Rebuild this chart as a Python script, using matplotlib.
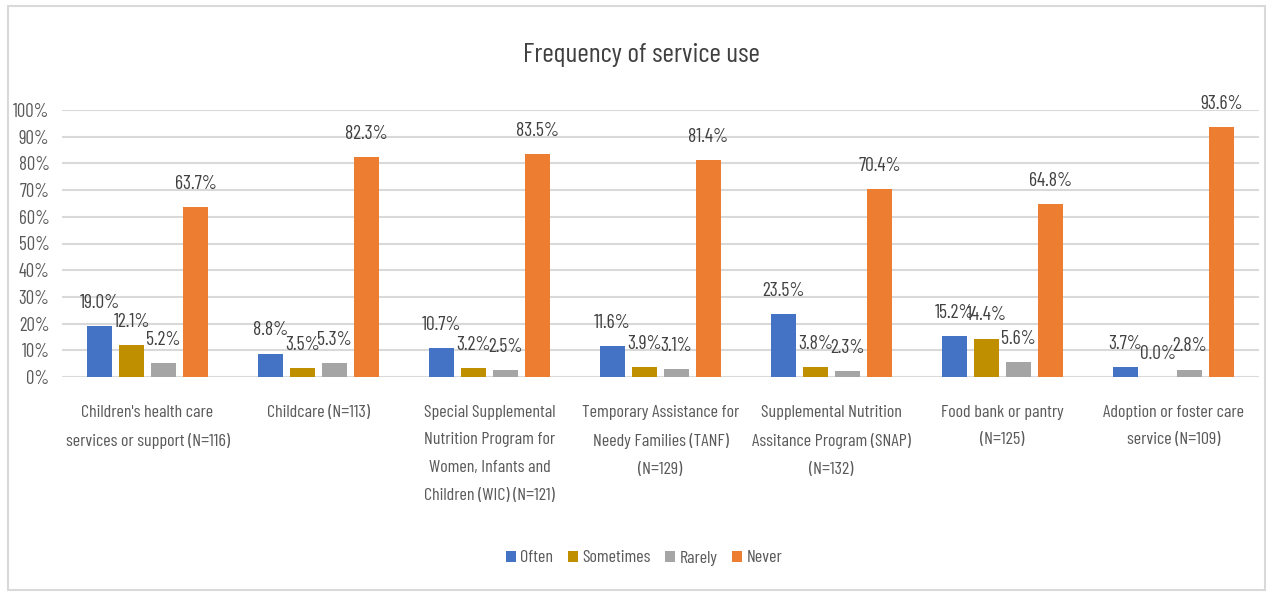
import matplotlib
matplotlib.use("Agg")
import matplotlib.pyplot as plt
import numpy as np
from matplotlib.patches import Rectangle

plt.rcParams['font.family'] = ['Barlow Condensed', 'DejaVu Sans']
plt.rcParams['font.weight'] = 'normal'

categories = [
    "Children's health care\nservices or support (N=116)",
    "Childcare (N=113)",
    "Special Supplemental\nNutrition Program for\nWomen, Infants and\nChildren (WIC) (N=121)",
    "Temporary Assistance for\nNeedy Families (TANF)\n(N=129)",
    "Supplemental Nutrition\nAssitance Program (SNAP)\n(N=132)",
    "Food bank or pantry\n(N=125)",
    "Adoption or foster care\nservice (N=109)",
]
often = [19.0, 8.8, 10.7, 11.6, 23.5, 15.2, 3.7]
sometimes = [12.1, 3.5, 3.2, 3.9, 3.8, 14.4, 0.0]
rarely = [5.2, 5.3, 2.5, 3.1, 2.3, 5.6, 2.8]
never = [63.7, 82.3, 83.5, 81.4, 70.4, 64.8, 93.6]
series_names = ["Often", "Sometimes", "Rarely", "Never"]
yticks = [0, 10, 20, 30, 40, 50, 60, 70, 80, 90, 100]

colors = ["#4472C4", "#BF8F00", "#A5A5A5", "#ED7D31"]

fig = plt.figure(figsize=(12.71, 5.94), dpi=100)
fig.patches.append(Rectangle((8/1271, 4/594), 1257/1271, 584/594, transform=fig.transFigure,
                             fill=False, edgecolor="#D9D9D9", linewidth=1.5))
ax = fig.add_axes([62/1271, 1-377/594, (1259-62)/1271, (377-110)/594])

x = np.arange(len(categories))
bw = 0.146
step = 0.187
data = [often, sometimes, rarely, never]
for i, (vals, name, c) in enumerate(zip(data, series_names, colors)):
    pos = x + (i - 1.5) * step
    ax.bar(pos, np.array(vals) / 100, width=bw, color=c, label=name, zorder=3)
    for px, v in zip(pos, vals):
        ax.annotate(f"{v:.1f}%", (px, v / 100), xytext=(0, 13), textcoords="offset points",
                    ha="center", va="baseline", fontsize=14, color="#404040")

ax.set_xlim(-0.5, len(categories) - 0.5)
ax.set_ylim(0, 1.0)
ax.set_yticks([t / 100 for t in yticks])
ax.set_yticklabels([f"{t}%" for t in yticks], fontsize=13.5, color="#595959")
ax.set_xticks(x)
ax.set_xticklabels(categories, fontsize=13, color="#595959", linespacing=2.05, va="top")
ax.tick_params(axis="x", length=0, pad=20)
ax.tick_params(axis="y", length=0, pad=9)
ax.grid(axis="y", color="#D9D9D9", linewidth=1.5, zorder=0)
for s in ax.spines.values():
    s.set_visible(False)

fig.text(641/1271, 1-55/594, "Frequency of service use", ha="center", va="center",
         fontsize=20, color="#404040")

leg = fig.legend(loc="center", bbox_to_anchor=(644/1271, 1-558/594), ncol=4, frameon=False,
                 fontsize=13, handlelength=0.55, handleheight=0.55, handletextpad=0.25,
                 columnspacing=0.8)
for t in leg.get_texts():
    t.set_color("#595959")

fig.savefig("out.png", dpi=100)
